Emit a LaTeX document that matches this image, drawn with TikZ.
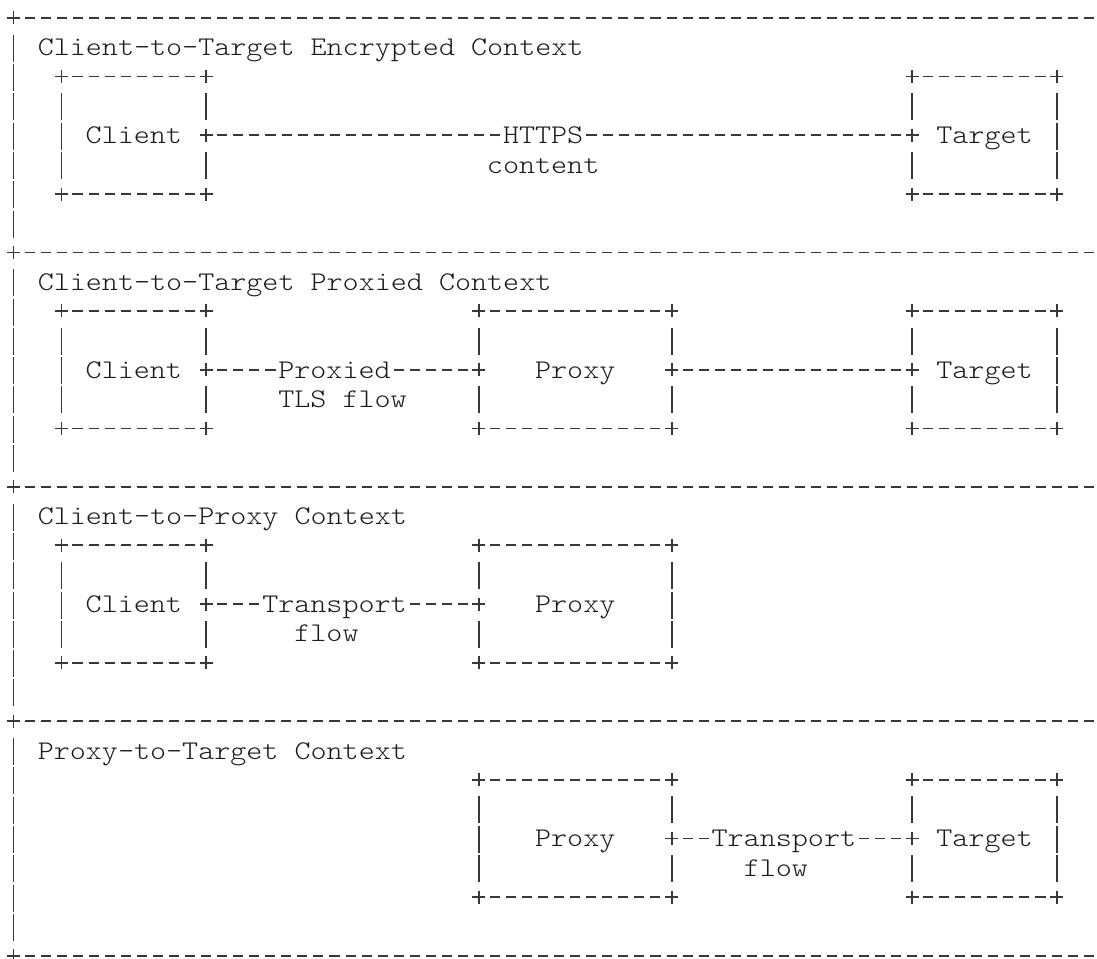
\documentclass[tikz,border=0pt]{standalone}
\usepackage{fontspec}
\usetikzlibrary{calc}
\newfontfamily\asciifont{lmmonolt10-regular.otf}[FakeStretch=1.1323]
\newcommand\asciitext{\asciifont\fontsize{27pt}{29pt}\selectfont}
\definecolor{txtcol}{HTML}{1A1A1A}
\definecolor{linecol}{HTML}{383838}
\tikzset{
  glyph/.style={draw=linecol, line width=1.8pt},
  dashrun/.style={glyph, dash pattern=on 10.05pt off 6pt, dash phase=13.05pt},
  pics/plusglyph/.style={code={\draw[glyph] (-6.5,0) -- (6.5,0) (0,-6.5) -- (0,6.5);}},
  pics/barglyph/.style={code={\draw[glyph] (0,-12.5) -- (0,14.5);}},
  abox/.style={rectangle, inner sep=0pt, minimum height=117.2pt, text height=17pt, text depth=0pt, font=\asciitext, text=txtcol},
  lbl/.style={rectangle, inner sep=0pt, text height=17pt, text depth=0pt, font=\asciitext, text=txtcol},
  sectitle/.style={anchor=base west, inner sep=0pt, font=\asciitext, text=txtcol},
}
\newcommand\cx[1]{13.5+16.05*(#1)}
\newcommand\ry[1]{18+29.3*(#1)}
\newcommand\boxoutline[3]{%
  \foreach \crn in {north west, north east, south west, south east} {\pic at (#1.\crn) {plusglyph};}
  \draw[dashrun] ([xshift=8.025pt]#1.north west) -- ([xshift=-8.025pt]#1.north east);
  \draw[dashrun] ([xshift=8.025pt]#1.south west) -- ([xshift=-8.025pt]#1.south east);
  \foreach \k in {1,3} {
    \pic at ($(#1.north west)+(0,29.3*\k)$) {barglyph};
    \pic at ($(#1.north east)+(0,29.3*\k)$) {barglyph};
  }
  \pic at (#1.west) {#2};
  \pic at (#1.east) {#3};
}
\begin{document}
\begin{tikzpicture}[x=1pt,y=-1pt]
\useasboundingbox (0,0) rectangle (1097,958);
% section frame
\foreach \s in {0,8,16,24,32} {
  \pic at ({\cx{0}},{\ry{\s}}) {plusglyph};
  \draw[dashrun] ({\cx{0}+8.025},{\ry{\s}}) -- (1097,{\ry{\s}});
}
\foreach \s in {0,8,16,24} {
  \foreach \k in {1,...,7} {
    \pic at ({\cx{0}},{\ry{\s+\k}}) {barglyph};
  }
}
% titles
\node[sectitle] (title1) at ({\cx{2}-8.025},{\ry{1}+8.5}) {Client-to-Target Encrypted Context};
\node[sectitle] (title2) at ({\cx{2}-8.025},{\ry{9}+8.5}) {Client-to-Target Proxied Context};
\node[sectitle] (title3) at ({\cx{2}-8.025},{\ry{17}+8.5}) {Client-to-Proxy Context};
\node[sectitle] (title4) at ({\cx{2}-8.025},{\ry{25}+8.5}) {Proxy-to-Target Context};

% ---- section 1
\node[abox, minimum width=144.45pt] (cl1) at ({\cx{7.5}},{\ry{4}}) {Client};
\node[abox, minimum width=144.45pt] (tg1) at ({\cx{60.5}},{\ry{4}}) {Target};
\boxoutline{cl1}{barglyph}{plusglyph}
\boxoutline{tg1}{plusglyph}{barglyph}
\node[lbl] (https) at ({\cx{33}},{\ry{4}}) {HTTPS};
\node[lbl] (content) at ({\cx{33}},{\ry{5}}) {content};
\draw[dashrun] ([xshift=8.025pt]cl1.east) -- (https.west);
\draw[dashrun] (https.east) -- ([xshift=-8.025pt]tg1.west);

% ---- section 2
\node[abox, minimum width=144.45pt] (cl2) at ({\cx{7.5}},{\ry{12}}) {Client};
\node[abox, minimum width=192.6pt] (px2) at ({\cx{35}},{\ry{12}}) {Proxy};
\node[abox, minimum width=144.45pt] (tg2) at ({\cx{60.5}},{\ry{12}}) {Target};
\boxoutline{cl2}{barglyph}{plusglyph}
\boxoutline{px2}{plusglyph}{plusglyph}
\boxoutline{tg2}{plusglyph}{barglyph}
\node[lbl] (proxied) at ({\cx{20}},{\ry{12}}) {Proxied};
\node[lbl] (tlsflow) at ({\cx{20.5}},{\ry{13}}) {TLS flow};
\draw[dashrun] ([xshift=8.025pt]cl2.east) -- (proxied.west);
\draw[dashrun] (proxied.east) -- ([xshift=-8.025pt]px2.west);
\draw[dashrun] ([xshift=8.025pt]px2.east) -- ([xshift=-8.025pt]tg2.west);

% ---- section 3
\node[abox, minimum width=144.45pt] (cl3) at ({\cx{7.5}},{\ry{20}}) {Client};
\node[abox, minimum width=192.6pt] (px3) at ({\cx{35}},{\ry{20}}) {Proxy};
\boxoutline{cl3}{barglyph}{plusglyph}
\boxoutline{px3}{plusglyph}{barglyph}
\node[lbl] (transport3) at ({\cx{20}},{\ry{20}}) {Transport};
\node[lbl] (flow3) at ({\cx{19.5}},{\ry{21}}) {flow};
\draw[dashrun] ([xshift=8.025pt]cl3.east) -- (transport3.west);
\draw[dashrun] (transport3.east) -- ([xshift=-8.025pt]px3.west);

% ---- section 4
\node[abox, minimum width=192.6pt] (px4) at ({\cx{35}},{\ry{28}}) {Proxy};
\node[abox, minimum width=144.45pt] (tg4) at ({\cx{60.5}},{\ry{28}}) {Target};
\boxoutline{px4}{barglyph}{plusglyph}
\boxoutline{tg4}{plusglyph}{barglyph}
\node[lbl] (transport4) at ({\cx{48}},{\ry{28}}) {Transport};
\node[lbl] (flow4) at ({\cx{47.5}},{\ry{29}}) {flow};
\draw[dashrun] ([xshift=8.025pt]px4.east) -- (transport4.west);
\draw[dashrun] (transport4.east) -- ([xshift=-8.025pt]tg4.west);
\end{tikzpicture}
\end{document}
